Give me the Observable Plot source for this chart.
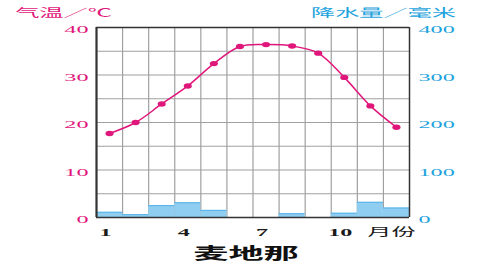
<!DOCTYPE html>
<html>
<head>
<meta charset="utf-8">
<script src="https://cdn.jsdelivr.net/npm/d3@7"></script>
<script src="https://cdn.jsdelivr.net/npm/@observablehq/plot@0.6"></script>
<style>
  html, body { margin: 0; padding: 0; background: #ffffff; }
  #chart { width: 480px; height: 270px; }
</style>
</head>
<body>
<div id="chart"></div>
<script>
const months = [1, 2, 3, 4, 5, 6, 7, 8, 9, 10, 11, 12];
const temperature = [17.7, 20.0, 23.9, 27.7, 32.4, 36.0, 36.4, 36.1, 34.6, 29.5, 23.5, 19.0];
const precipitation = [11, 6, 25, 31, 15, 0, 0, 8, 0, 9, 32, 20];
const tempTicks = [0, 10, 20, 30, 40];
const precipTicks = [0, 100, 200, 300, 400];
const monthTicks = [1, 4, 7, 10];
const monthUnit = "月份";
const tempLabel = "气温／℃";
const precipLabel = "降水量／毫米";
const title = "麦地那";

const MAGENTA = "#e0177b";
const CYAN = "#1ea3dd";
const BAR = "#8fcdf1";
const BAR_EDGE = "#55b3e8";
const GRID = "#a0a0a0";
const FRAME = "#333333";
const SERIF = "'Liberation Serif', 'DejaVu Serif', serif";
const CJK = "'Noto Sans CJK SC', sans-serif";

const rows = months.map((m, i) => ({ m, t: temperature[i], p: precipitation[i] }));
const wet = rows.filter(d => d.p > 0);

const svg = Plot.plot({
  width: 480,
  height: 270,
  marginLeft: 96,
  marginRight: 71,
  marginTop: 27,
  marginBottom: 53,
  x: { domain: [0.5, 12.5], axis: null },
  y: { domain: [0, 40], axis: null },
  style: { background: "#ffffff", fontFamily: SERIF, overflow: "visible" },
  marks: [
    Plot.ruleY(d3.range(5, 40, 5), { stroke: GRID, strokeWidth: 1.2 }),
    Plot.ruleX(d3.range(1.5, 12.5, 1), { stroke: GRID, strokeWidth: 1.2 }),
    Plot.rectY(wet, { x1: d => d.m - 0.5, x2: d => d.m + 0.5, y1: 0, y2: d => d.p / 10, fill: BAR, inset: 0 }),
    Plot.ruleY(wet, { x1: d => d.m - 0.5, x2: d => d.m + 0.5, y: d => d.p / 10, stroke: BAR_EDGE, strokeWidth: 1 }),
    Plot.ruleX([0.5], { stroke: FRAME, strokeWidth: 2.2 }),
    Plot.ruleX([12.5], { stroke: FRAME, strokeWidth: 1.5 }),
    Plot.ruleY([0, 40], { stroke: FRAME, strokeWidth: 1.5 }),
    Plot.line(rows, { x: "m", y: "t", curve: "catmull-rom", stroke: MAGENTA, strokeWidth: 1.5 }),
    Plot.dot(rows, { x: "m", y: "t", r: 2.7, fill: MAGENTA, stroke: "none" }),
    Plot.text(tempTicks, { x: 0.5, y: d => d, text: d => String(d), textAnchor: "end", dx: -8, dy: 2, fill: MAGENTA, fontSize: 11, fontFamily: SERIF }),
    Plot.text(precipTicks, { x: 12.5, y: d => d / 10, text: d => String(d), textAnchor: "start", dx: 9, dy: 2, fill: CYAN, fontSize: 11, fontFamily: SERIF }),
    Plot.text(monthTicks, { x: d => d, y: 0, text: d => String(d), dx: -4, dy: 15, fill: "#1a1a1a", fontSize: 11, fontWeight: "bold", fontFamily: SERIF }),
    Plot.text([monthUnit], { x: 12, y: 0, text: d => d, dx: -5, dy: 15, fill: "#1a1a1a", fontSize: 11, fontFamily: CJK }),
    Plot.text([tempLabel], { x: 0.5, y: 40, text: d => d, dx: -33, dy: -14, fill: MAGENTA, fontSize: 11, fontFamily: CJK }),
    Plot.text([precipLabel], { x: 12.5, y: 40, text: d => d, dx: -26, dy: -14, fill: CYAN, fontSize: 11, fontFamily: CJK }),
    Plot.text([title], { x: 6.5, y: 0, text: d => d, dx: -7, dy: 36, fill: "#111111", fontSize: 16, fontWeight: "bold", fontFamily: CJK })
  ]
});

// The reference is horizontally stretched: widen every text about its anchor point.
const S = 2.2;
d3.select(svg).selectAll("text").each(function () {
  const tr = this.getAttribute("transform");
  const x = parseFloat(this.getAttribute("x")) || 0;
  const g = document.createElementNS("http://www.w3.org/2000/svg", "g");
  if (tr) g.setAttribute("transform", tr);
  this.parentNode.insertBefore(g, this);
  g.appendChild(this);
  this.setAttribute("transform", `translate(${x},0) scale(${S},1) translate(${-x},0)`);
});
// Markers are flattened ellipses in the reference.
d3.select(svg).selectAll("circle").each(function () {
  const cx = parseFloat(this.getAttribute("cx")) || 0;
  const cy = parseFloat(this.getAttribute("cy")) || 0;
  const old = this.getAttribute("transform") || "";
  this.setAttribute("transform", `${old} translate(${cx},${cy}) scale(1.5,1) translate(${-cx},${-cy})`);
});

document.getElementById("chart").appendChild(svg);
</script>
</body>
</html>
